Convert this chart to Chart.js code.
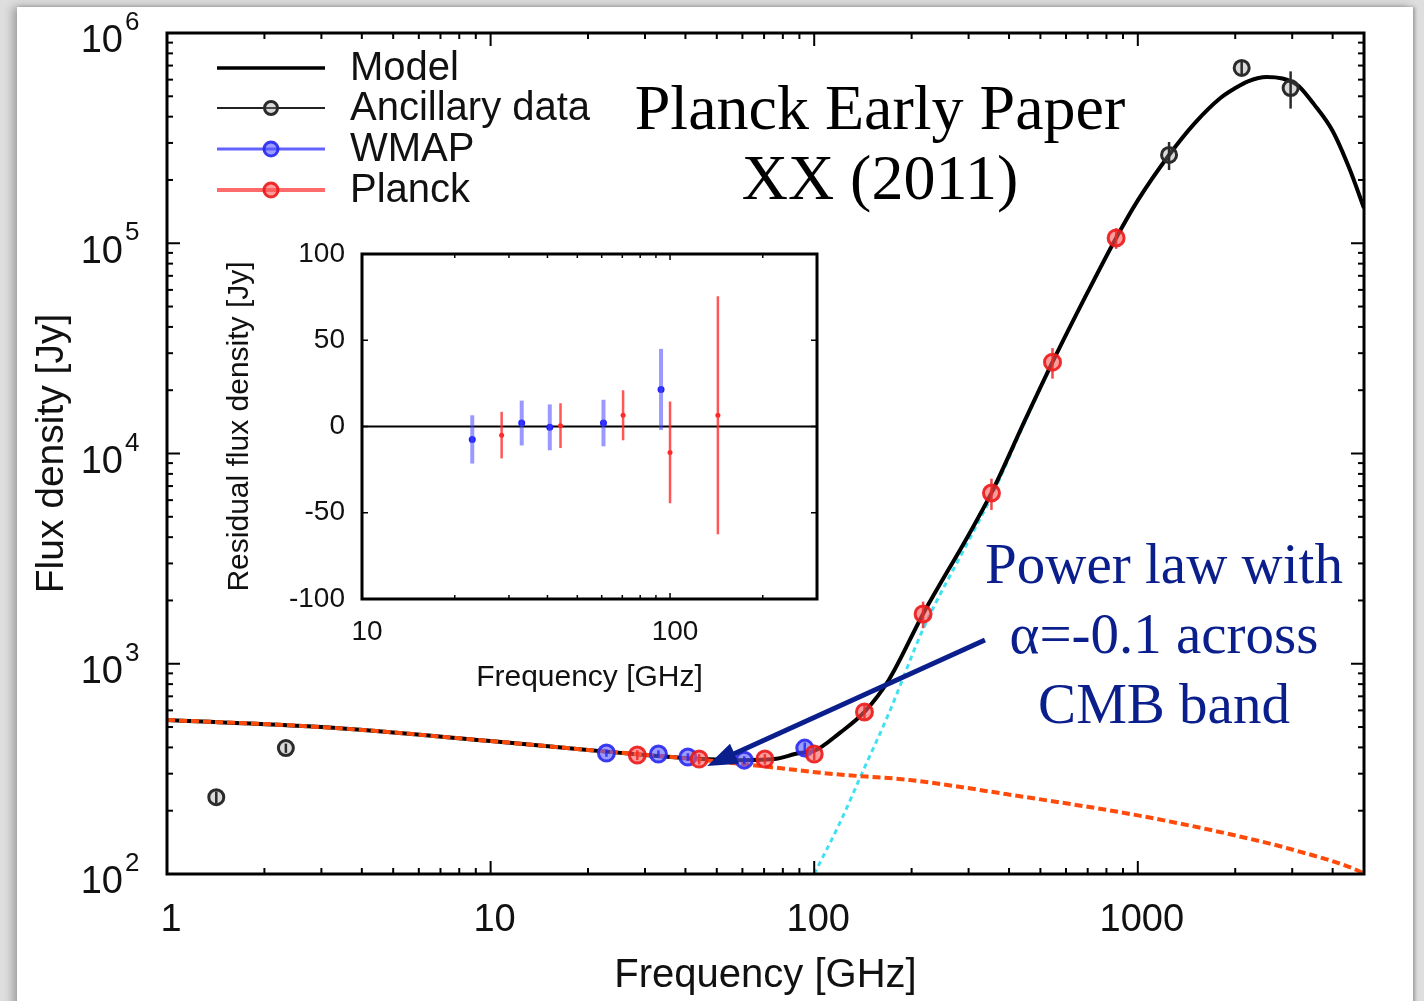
<!DOCTYPE html>
<html>
<head>
<meta charset="utf-8">
<title>Planck Early Paper XX SED</title>
<script src="https://cdn.jsdelivr.net/npm/chart.js@4.4.1/dist/chart.umd.min.js"></script>
<style>
html,body{margin:0;padding:0;}
body{width:1424px;height:1001px;background:#dedede;position:relative;overflow:hidden;}
#panel{position:absolute;left:17px;top:7px;width:1396px;height:1020px;background:#fff;
  box-shadow:-4px 0 9px rgba(0,0,0,0.30), 2px 0 3px rgba(0,0,0,0.25);}
canvas{position:absolute;left:0;top:0;}
.note{position:absolute;font-family:"Liberation Serif","Times New Roman",serif;white-space:nowrap;text-align:center;transform:translateX(-50%);}
#ref{left:880px;top:73px;font-size:64px;line-height:70px;color:#000;}
#pl{left:1164px;top:529px;font-size:57px;line-height:70px;color:#0b1f8c;}
</style>
</head>
<body>
<div id="panel"></div>
<canvas id="main" width="1424" height="1001"></canvas>
<canvas id="inset" width="1424" height="1001"></canvas>
<div class="note" id="ref">Planck Early Paper<br>XX (2011)</div>
<div class="note" id="pl">Power law with<br>α=-0.1 across<br>CMB band</div>
<script>
// ---------------- data ----------------
const modelFreq = [1, 3, 10, 20, 30, 45, 60, 75, 90, 100, 120, 143, 170, 217, 300, 353, 450, 545, 700, 857, 1000, 1249, 1500, 1800, 2000, 2200, 2500, 2800, 3000, 3150, 3500, 4000, 4500, 5000];
const modelFlux = [540, 500, 429, 389, 368, 352, 348, 352, 376, 385, 469, 590, 837, 1725, 4100, 6490, 14600, 27200, 58500, 106000, 160000, 263000, 373000, 491000, 547000, 591000, 618000, 608000, 585000, 557000, 459000, 342000, 228000, 147000];

const syncFreq = [1, 3, 10, 20, 40, 60, 78, 114, 197, 391, 1000, 2020, 3096, 4742, 5000];
const syncFlux = [540, 500, 429, 389, 355, 333, 319, 299, 280, 240, 190, 152, 129, 104.5, 100];

const dustFreq = [100, 120, 143, 170, 217, 300, 353, 450, 545, 700, 857, 1000, 1249, 1500, 1800, 2000, 2200, 2500, 2800, 3000, 3150, 3500, 4000, 4500, 5000];
const dustFlux = [100, 175, 320, 580, 1460, 3850, 6250, 14360, 27000, 58300, 105800, 159800, 262800, 372800, 490800, 546800, 590800, 617800, 607850, 584870, 556870, 458880, 341890, 227890, 146900];

const ancFreq = [1.42, 2.33, 1249, 2094, 2966];
const ancFlux = [232, 397, 263000, 682000, 547000];
const ancErr  = [15, 20, 40000, 50000, 110000];

const wmapFreq = [22.8, 33, 40.7, 60.8, 93.5];
const wmapFlux = [376, 372, 360, 348, 397];
const wmapErr  = [15, 15, 15, 15, 25];

const planckFreq = [28.4, 44.1, 70.4, 100, 143, 217, 353, 545, 857];
const planckFlux = [368, 352, 352, 372, 590, 1725, 6490, 27200, 106000];
const planckErr  = [20, 20, 20, 25, 50, 250, 1100, 4500, 12000];

const wmapRes    = [-7.5, 2, -0.5, 2, 21.5];
const wmapResErr = [14, 13, 13.3, 13.5, 23.5];
const planckResFreq = [28.4, 44.1, 70.4, 100, 143];
const planckRes    = [-5, 0.5, 6.5, -15, 6.5];
const planckResErr = [13.5, 13, 14.5, 29.5, 69];

const legendLabels = ['Model', 'Ancillary data', 'WMAP', 'Planck'];
const xTickValues = [1, 10, 100, 1000];
const yTickValues = [100, 1000, 10000, 100000, 1000000];
const insetXTickValues = [10, 100];
const insetYTickValues = [-100, -50, 0, 50, 100];
const zeroLineFreq = [10, 300];
const zeroLineRes = [0, 0];
const arrowTail = [337, 1297];   // GHz, Jy
const arrowTip  = [46.7, 326];   // GHz, Jy

// ---------------- helpers ----------------
const pts = (xs, ys) => xs.map((x, i) => ({x: x, y: ys[i]}));
const SANS = "'Liberation Sans', Arial, Helvetica, sans-serif";
Chart.defaults.color = '#111';
Chart.defaults.font.family = SANS;

function logTicks(min, max) {
  const out = [];
  for (let d = Math.pow(10, Math.floor(Math.log10(min))); d <= max; d *= 10) {
    for (let m = 1; m <= 9; m++) {
      const v = m * d;
      if (v >= min * 0.999 && v <= max * 1.001) out.push({v: v, major: m === 1});
    }
  }
  return out;
}

const errorBars = {
  id: 'errorBars',
  afterDatasetsDraw(chart) {
    const {ctx, scales, chartArea: a} = chart;
    ctx.save();
    ctx.beginPath();
    ctx.rect(a.left, a.top, a.right - a.left, a.bottom - a.top);
    ctx.clip();
    chart.data.datasets.forEach(ds => {
      if (!ds.errY) return;
      ctx.strokeStyle = ds.errColor;
      ctx.lineWidth = ds.errWidth;
      ds.data.forEach((p, i) => {
        const e = ds.errY[i];
        const px = scales.x.getPixelForValue(p.x);
        const lo = p.y - e;
        const y1 = scales.y.getPixelForValue(lo > 0 || scales.y.type !== 'logarithmic' ? lo : p.y / 2);
        const y2 = scales.y.getPixelForValue(p.y + e);
        ctx.beginPath(); ctx.moveTo(px, y1); ctx.lineTo(px, y2); ctx.stroke();
      });
    });
    ctx.restore();
  }
};

const frameTicks = {
  id: 'frameTicks',
  afterDraw(chart, args, o) {
    const {ctx, chartArea: a, scales} = chart;
    ctx.save();
    ctx.strokeStyle = '#000';
    ctx.lineWidth = o.tickWidth;
    const seg = (x1, y1, x2, y2) => { ctx.beginPath(); ctx.moveTo(x1, y1); ctx.lineTo(x2, y2); ctx.stroke(); };
    o.xTicks.forEach(t => {
      const p = scales.x.getPixelForValue(t.v);
      const L = t.major ? o.major : o.minor;
      seg(p, a.bottom, p, a.bottom - L);
      seg(p, a.top, p, a.top + L);
    });
    o.yTicks.forEach(t => {
      const p = scales.y.getPixelForValue(t.v);
      const L = t.major ? o.major : o.minor;
      seg(a.left, p, a.left + L, p);
      seg(a.right, p, a.right - L, p);
    });
    ctx.lineWidth = o.frameWidth;
    ctx.strokeRect(a.left, a.top, a.right - a.left, a.bottom - a.top);
    ctx.restore();
  }
};

const mainDecor = {
  id: 'mainDecor',
  afterDraw(chart) {
    const {ctx, scales} = chart;
    const xs = scales.x, ys = scales.y;
    ctx.save();
    // exponents of y tick labels
    ctx.fillStyle = '#111';
    ctx.font = '26px ' + SANS;
    ctx.textAlign = 'left';
    ctx.textBaseline = 'middle';
    ys.ticks.forEach(t => {
      const p = ys.getPixelForValue(t.value);
      ctx.fillText(String(Math.round(Math.log10(t.value))), 125, p - 10);
    });
    // legend
    const ds = chart.data.datasets;
    const items = [
      {label: legendLabels[0], color: ds[4].borderColor, width: 3.5, marker: null},
      {label: legendLabels[1], color: '#222', width: 2.2, marker: ds[2]},
      {label: legendLabels[2], color: 'rgba(70,70,255,0.85)', width: 3, marker: ds[1]},
      {label: legendLabels[3], color: 'rgba(255,80,80,0.85)', width: 4, marker: ds[0]}
    ];
    const rowY = [68, 108, 149, 190];
    items.forEach((it, i) => {
      const y = rowY[i];
      ctx.strokeStyle = it.color; ctx.lineWidth = it.width;
      ctx.beginPath(); ctx.moveTo(217, y); ctx.lineTo(325, y); ctx.stroke();
      if (it.marker) {
        ctx.beginPath(); ctx.arc(271, y, it.marker.pointRadius - 1, 0, Math.PI * 2);
        ctx.fillStyle = it.marker.pointBackgroundColor; ctx.fill();
        ctx.strokeStyle = it.marker.pointBorderColor; ctx.lineWidth = it.marker.pointBorderWidth; ctx.stroke();
      }
      ctx.fillStyle = '#111';
      ctx.font = '40px ' + SANS;
      ctx.textAlign = 'left'; ctx.textBaseline = 'middle';
      ctx.fillText(it.label, 350, y + 1);
    });
    // arrow
    const tx = xs.getPixelForValue(arrowTail[0]), ty = ys.getPixelForValue(arrowTail[1]);
    const hx = xs.getPixelForValue(arrowTip[0]), hy = ys.getPixelForValue(arrowTip[1]);
    const dx = hx - tx, dy = hy - ty, len = Math.hypot(dx, dy);
    const ux = dx / len, uy = dy / len;
    const headL = 30, headW = 11;
    const bx = hx - ux * headL, by = hy - uy * headL;
    ctx.strokeStyle = '#0b1f8c'; ctx.fillStyle = '#0b1f8c';
    ctx.lineWidth = 5; ctx.lineCap = 'butt';
    ctx.beginPath(); ctx.moveTo(tx, ty); ctx.lineTo(bx + ux * 4, by + uy * 4); ctx.stroke();
    ctx.beginPath();
    ctx.moveTo(hx, hy);
    ctx.lineTo(bx - uy * headW, by + ux * headW);
    ctx.lineTo(bx + uy * headW, by - ux * headW);
    ctx.closePath(); ctx.fill();
    ctx.restore();
  }
};

// ---------------- main chart ----------------
new Chart(document.getElementById('main'), {
  type: 'scatter',
  data: {
    datasets: [
      {label: 'Planck', data: pts(planckFreq, planckFlux), pointRadius: 8, pointHoverRadius: 8,
       pointBackgroundColor: 'rgba(255,90,90,0.6)', pointBorderColor: 'rgba(235,25,25,0.9)', pointBorderWidth: 3,
       errY: planckErr, errColor: 'rgba(240,40,40,0.85)', errWidth: 2.5},
      {label: 'WMAP', data: pts(wmapFreq, wmapFlux), pointRadius: 8, pointHoverRadius: 8,
       pointBackgroundColor: 'rgba(90,90,255,0.6)', pointBorderColor: 'rgba(40,40,240,0.9)', pointBorderWidth: 3,
       errY: wmapErr, errColor: 'rgba(40,40,240,0.85)', errWidth: 2.5},
      {label: 'Ancillary data', data: pts(ancFreq, ancFlux), pointRadius: 7.5, pointHoverRadius: 7.5,
       pointBackgroundColor: 'rgba(150,150,150,0.35)', pointBorderColor: '#2b2b2b', pointBorderWidth: 3,
       errY: ancErr, errColor: '#2b2b2b', errWidth: 2.5},
      {label: 'Synchrotron', data: pts(syncFreq, syncFlux), showLine: true, pointRadius: 0,
       borderColor: '#ff4a0a', borderWidth: 4, borderDash: [8, 4], cubicInterpolationMode: 'monotone'},
      {label: 'Model', data: pts(modelFreq, modelFlux), showLine: true, pointRadius: 0,
       borderColor: '#000', borderWidth: 4, cubicInterpolationMode: 'monotone'},
      {label: 'Dust', data: pts(dustFreq, dustFlux), showLine: true, pointRadius: 0,
       borderColor: '#40e2f2', borderWidth: 3, borderDash: [5, 4], cubicInterpolationMode: 'monotone'}
    ]
  },
  options: {
    responsive: false, animation: false,
    layout: {padding: {left: 0, top: 33, right: 60, bottom: 0}},
    plugins: {legend: {display: false}, tooltip: {enabled: false},
      frameTicks: {xTicks: logTicks(1, 5000), yTicks: logTicks(100, 1e6), major: 13, minor: 6, tickWidth: 2, frameWidth: 3}},
    scales: {
      x: {type: 'logarithmic', min: 1, max: 5000,
          grid: {display: false, drawTicks: false}, border: {display: false},
          afterBuildTicks: s => { s.ticks = xTickValues.map(v => ({value: v})); },
          afterFit: s => { s.height = 127; s.paddingLeft = 0; s.paddingRight = 0; },
          ticks: {font: {size: 38}, padding: 24, labelOffset: 4, maxRotation: 0, autoSkip: false,
                  callback: v => String(v)},
          title: {display: true, text: 'Frequency [GHz]', font: {size: 40}, padding: {top: 0, bottom: 1}}},
      y: {type: 'logarithmic', min: 100, max: 1e6,
          grid: {display: false, drawTicks: false}, border: {display: false},
          afterBuildTicks: s => { s.ticks = yTickValues.map(v => ({value: v})); },
          afterFit: s => { s.width = 167; s.paddingTop = 0; s.paddingBottom = 0; },
          ticks: {font: {size: 38}, padding: 44, labelOffset: 9, autoSkip: false, callback: () => '10'},
          title: {display: true, text: 'Flux density [Jy]', font: {size: 39}, padding: {top: 29, bottom: 0}}}
    }
  },
  plugins: [errorBars, frameTicks, mainDecor]
});

// ---------------- inset chart ----------------
new Chart(document.getElementById('inset'), {
  type: 'scatter',
  data: {
    datasets: [
      {label: 'Planck residual', data: pts(planckResFreq, planckRes), pointRadius: 2.5, pointHoverRadius: 2.5,
       pointBackgroundColor: 'rgb(255,40,40)', pointBorderWidth: 0,
       errY: planckResErr, errColor: 'rgba(255,45,45,0.8)', errWidth: 2.5},
      {label: 'WMAP residual', data: pts(wmapFreq, wmapRes), pointRadius: 3.5, pointHoverRadius: 3.5,
       pointBackgroundColor: 'rgb(30,30,255)', pointBorderWidth: 0,
       errY: wmapResErr, errColor: 'rgba(70,70,255,0.55)', errWidth: 4},
      {label: 'zero', data: pts(zeroLineFreq, zeroLineRes), showLine: true, pointRadius: 0,
       borderColor: '#000', borderWidth: 2.2}
    ]
  },
  options: {
    responsive: false, animation: false,
    layout: {padding: {left: 200, top: 254, right: 607, bottom: 281}},
    plugins: {legend: {display: false}, tooltip: {enabled: false},
      frameTicks: {xTicks: logTicks(10, 300), yTicks: insetYTickValues.map(v => ({v: v, major: true})), major: 6, minor: 4, tickWidth: 1.5, frameWidth: 3}},
    scales: {
      x: {type: 'logarithmic', min: 10, max: 300,
          grid: {display: false, drawTicks: false}, border: {display: false},
          afterBuildTicks: s => { s.ticks = insetXTickValues.map(v => ({value: v})); },
          afterFit: s => { s.height = 121; s.paddingLeft = 0; s.paddingRight = 0; },
          ticks: {font: {size: 28}, padding: 16, labelOffset: 5, maxRotation: 0, autoSkip: false, callback: v => String(v)},
          title: {display: true, text: 'Frequency [GHz]', font: {size: 30}, padding: {top: 0, bottom: 24}}},
      y: {type: 'linear', min: -100, max: 100,
          grid: {display: false, drawTicks: false}, border: {display: false},
          afterBuildTicks: s => { s.ticks = insetYTickValues.map(v => ({value: v})); },
          afterFit: s => { s.width = 162; s.paddingTop = 0; s.paddingBottom = 0; },
          ticks: {font: {size: 28}, padding: 17, autoSkip: false, callback: v => String(v)},
          title: {display: true, text: 'Residual flux density [Jy]', font: {size: 30}, padding: {top: 22, bottom: 0}}}
    }
  },
  plugins: [errorBars, frameTicks]
});
</script>
</body>
</html>
